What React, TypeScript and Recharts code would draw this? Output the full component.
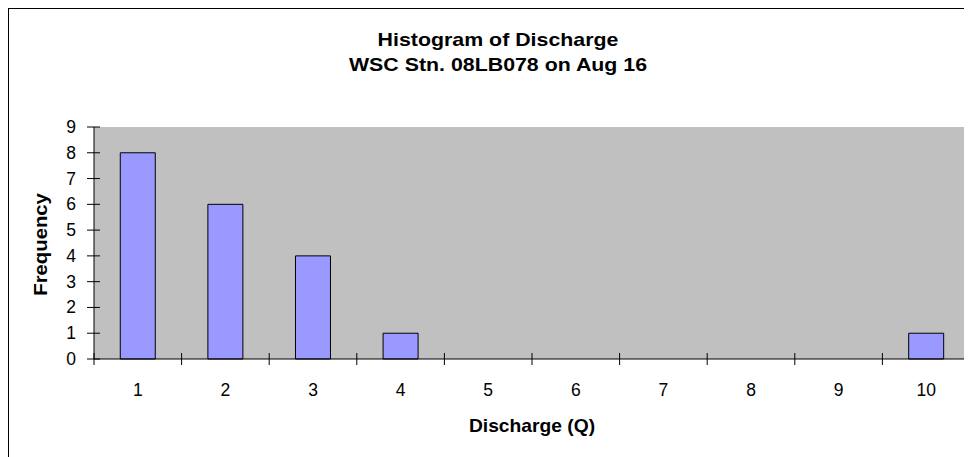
import React from 'react';
import { BarChart, Bar, XAxis, YAxis, CartesianGrid } from 'recharts';

const categories = ['1', '2', '3', '4', '5', '6', '7', '8', '9', '10'];
const frequencies = [8, 6, 4, 1, 0, 0, 0, 0, 0, 1];
const yTicks = [0, 1, 2, 3, 4, 5, 6, 7, 8, 9];

const data = categories.map((c, i) => ({ bin: c, freq: frequencies[i] }));

const FONT = '"Liberation Sans", Arial, sans-serif';

const XTick = (props: any) => {
  const { x, y, payload, index } = props;
  const off = payload?.offset ?? 0;
  return (
    <g>
      <line x1={x - off} x2={x - off} y1={y - 6} y2={y + 6} stroke="#000" strokeWidth={1} />
      {index === categories.length - 1 && (
        <line x1={x + off} x2={x + off} y1={y - 6} y2={y + 6} stroke="#000" strokeWidth={1} />
      )}
      <text x={x} y={y + 30.5} textAnchor="middle" dominantBaseline="central" fontSize={17.5} fontFamily={FONT} fill="#000">
        {payload.value}
      </text>
    </g>
  );
};

const YTick = (props: any) => {
  const { x, y, payload } = props;
  return (
    <g>
      <line x1={x - 7} x2={x + 6} y1={y} y2={y} stroke="#000" strokeWidth={1} />
      <text x={x - 18} y={y} textAnchor="end" dominantBaseline="central" fontSize={17.5} fontFamily={FONT} fill="#000">
        {payload.value}
      </text>
    </g>
  );
};

export default function App() {
  return (
    <div
      style={{
        width: 964,
        height: 449,
        borderLeft: '1px solid #000',
        borderTop: '1px solid #000',
        boxSizing: 'border-box',
        background: '#fff',
      }}
    >
      <BarChart
        width={963}
        height={448}
        data={data}
        margin={{ top: 118, right: 2, left: 0, bottom: 0 }}
        barCategoryGap="30%"
      >
        <CartesianGrid horizontal={false} vertical={false} fill="#C0C0C0" stroke="none" />
        <XAxis
          dataKey="bin"
          height={98}
          tickSize={0}
          tickMargin={0}
          tickLine={false}
          axisLine={{ stroke: '#000', strokeWidth: 1 }}
          tick={<XTick />}
          interval={0}
        />
        <YAxis
          width={85}
          domain={[0, 9]}
          ticks={yTicks}
          tickSize={0}
          tickMargin={0}
          tickLine={false}
          axisLine={{ stroke: '#000', strokeWidth: 1 }}
          tick={<YTick />}
          interval={0}
        />
        <Bar dataKey="freq" fill="#9999FF" stroke="#000" strokeWidth={1} isAnimationActive={false} />
        <text transform="translate(489,36.7) scale(1.22,1)" x={0} y={0} textAnchor="middle" fontSize={17.5} fontWeight="bold" fontFamily={FONT} fill="#000">
          Histogram of Discharge
        </text>
        <text transform="translate(489,61.7) scale(1.22,1)" x={0} y={0} textAnchor="middle" fontSize={17.5} fontWeight="bold" fontFamily={FONT} fill="#000">
          WSC Stn. 08LB078 on Aug 16
        </text>
        <text transform="translate(523,423) scale(1.1,1)" x={0} y={0} textAnchor="middle" fontSize={17.5} fontWeight="bold" fontFamily={FONT} fill="#000">
          Discharge (Q)
        </text>
        <text
          transform="translate(38,235.4) rotate(-90) scale(1.16,1)"
          x={0}
          y={0}
          textAnchor="middle"
          fontSize={17.5}
          fontWeight="bold"
          fontFamily={FONT}
          fill="#000"
        >
          Frequency
        </text>
      </BarChart>
    </div>
  );
}
